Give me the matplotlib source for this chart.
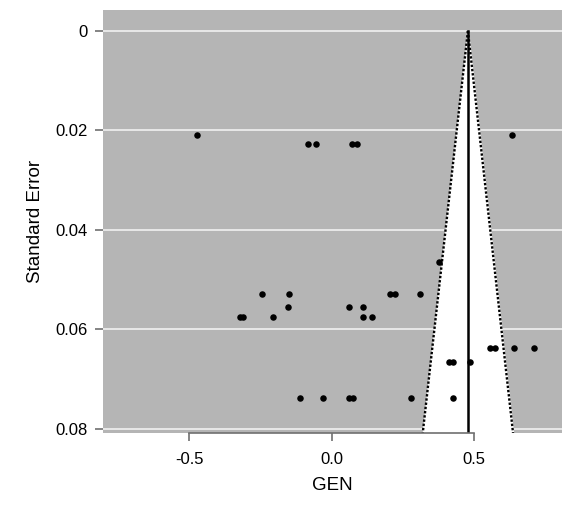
import matplotlib
matplotlib.use("Agg")
import matplotlib.pyplot as plt
import numpy as np

plt.rcParams['font.family'] = ['Liberation Sans', 'DejaVu Sans']

# study effects (GEN) and their standard errors
gen = [-0.474, -0.082, -0.054, 0.071, 0.090, 0.634,
       0.378,
       -0.246, -0.151, 0.203, 0.224, 0.310,
       -0.153, 0.062, 0.111,
       -0.323, -0.311, -0.204, 0.111, 0.141,
       0.555, 0.574, 0.640, 0.710,
       0.412, 0.426, 0.487,
       -0.110, -0.029, 0.062, 0.074, 0.278, 0.426]
se = [0.0210, 0.0227, 0.0227, 0.0227, 0.0227, 0.0210,
      0.0465,
      0.0529, 0.0529, 0.0529, 0.0529, 0.0529,
      0.0555, 0.0555, 0.0555,
      0.0574, 0.0574, 0.0574, 0.0574, 0.0574,
      0.0637, 0.0637, 0.0637, 0.0637,
      0.0665, 0.0665, 0.0665,
      0.0737, 0.0737, 0.0737, 0.0737, 0.0737, 0.0737]
pooled = 0.478
yticks = [0, 0.02, 0.04, 0.06, 0.08]
ytick_labels = ['0', '0.02', '0.04', '0.06', '0.08']
xticks = [-0.5, 0.0, 0.5]
xtick_labels = ['-0.5', '0.0', '0.5']

fig = plt.figure(figsize=(5.79, 5.13), dpi=100)
ax = fig.add_axes([0.1774, 0.156, 0.7932, 0.8245])
ax.set_facecolor('#b5b5b5')

ymin, ymax = -0.0042, 0.0808
ax.set_ylim(ymax, ymin)
ax.set_xlim(-0.803, 0.808)

# white funnel region (pseudo 95% limits)
s = np.linspace(0, ymax, 50)
ax.fill_betweenx(s, pooled - 1.96 * s, pooled + 1.96 * s, color='white', zorder=1)
for t in yticks:
    ax.axhline(t, color='#ececec', lw=1.3, zorder=0.5)
ax.plot(pooled - 1.96 * s, s, color='black', ls=(0, (1, 0.8)), lw=1.7, zorder=2)
ax.plot(pooled + 1.96 * s, s, color='black', ls=(0, (1, 0.8)), lw=1.7, zorder=2)
ax.plot([pooled, pooled], [0, ymax], color='black', lw=1.8, zorder=2)

ax.scatter(gen, se, s=22, color='black', zorder=3, linewidths=0)

for sp in ['top', 'right', 'left']:
    ax.spines[sp].set_visible(False)
ax.spines['bottom'].set_bounds(-0.5, 0.5)
ax.spines['bottom'].set_color('#707070')
ax.spines['bottom'].set_linewidth(1.2)

ax.set_yticks(yticks)
ax.set_yticklabels(ytick_labels)
ax.set_xticks(xticks)
ax.set_xticklabels(xtick_labels)
ax.tick_params(axis='both', colors='#707070', labelcolor='black', labelsize=12,
               length=6, width=1.2)
ax.tick_params(axis='y', pad=5)
ax.tick_params(axis='x', pad=8)

ax.set_xlabel('GEN', fontsize=13.5, labelpad=7)
ax.set_ylabel('Standard Error', fontsize=13.5, labelpad=8)

fig.savefig('out.png', dpi=100)
